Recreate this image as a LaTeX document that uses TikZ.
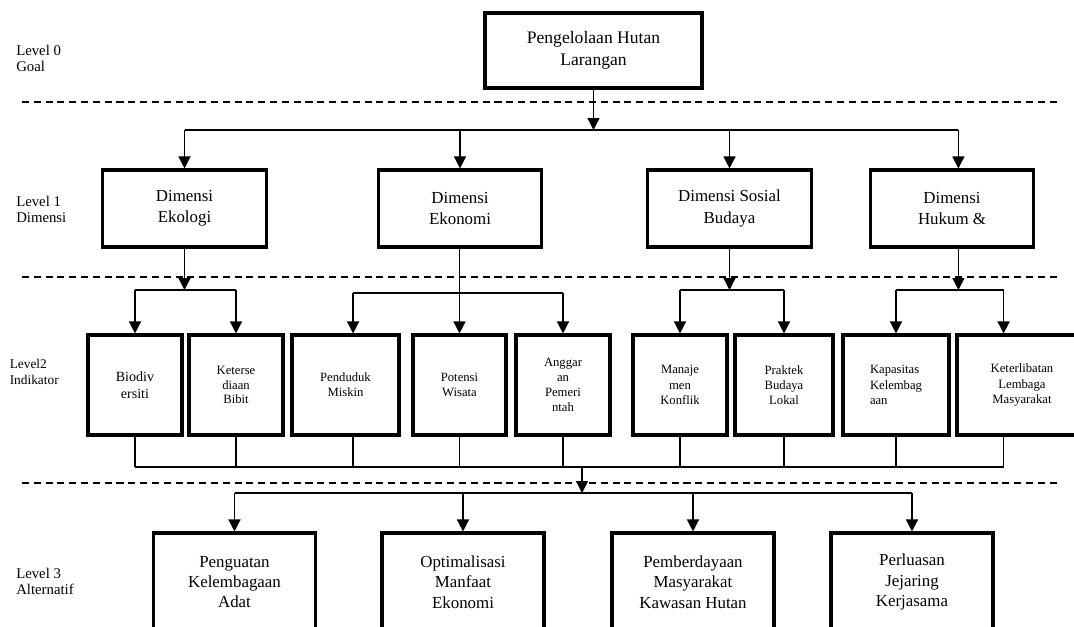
\documentclass[tikz,border=0pt]{standalone}
\usepackage{fontspec}
\setmainfont{Liberation Serif}
\usetikzlibrary{arrows.meta}

\begin{document}
\begin{tikzpicture}[x=0.025cm,y=-0.025cm,
    box/.style={draw,line width=2.2pt,align=center,inner sep=2pt},
    goalbox/.style={box,minimum width=5.425cm,minimum height=1.875cm,font=\fontsize{12.5}{15.5}\selectfont},
    dimbox/.style={box,minimum width=4.08cm,minimum height=1.925cm,font=\fontsize{12}{15}\selectfont},
    indbox/.style={box,minimum height=2.5cm,font=\fontsize{9}{10.8}\selectfont},
    altbox/.style={box,minimum width=4.05cm,minimum height=2.45cm,font=\fontsize{12}{14.4}\selectfont},
    lvl/.style={anchor=west,align=left,inner sep=0pt,font=\fontsize{10.5}{12}\selectfont},
    link/.style={line width=0.95pt},
    arr/.style={link,-{Triangle[length=8.5pt,width=8.5pt]}},
    levelsep/.style={line width=0.9pt,dash pattern=on 5pt off 3.4pt}]
    \useasboundingbox (0,0) rectangle (1074,626);
    \clip (0,0) rectangle (1074,626);

    \node[lvl] (l0) at (16,58.5) {Level 0\\Goal};
    \node[lvl] (l1) at (16,209.5) {Level 1\\Dimensi};
    \node[lvl,font=\fontsize{9.5}{11.3}\selectfont] (l2) at (9.5,372) {Level2\\Indikator};
    \node[lvl] (l3) at (16,581.5) {Level 3\\Alternatif};

    \foreach \y in {102,277,483}
        \draw[levelsep] (22,\y) -- (1060,\y);

    \node[goalbox] (goal) at (593.5,50.5) {Pengelolaan Hutan\\Larangan};

    \node[dimbox] (ekol) at (184.5,208.5) {Dimensi\\Ekologi};
    \node[dimbox] (ekon) at (460,208.5) {Dimensi\\Ekonomi};
    \node[dimbox] (sos) at (729.5,208.5) {Dimensi Sosial\\Budaya};
    \node[dimbox] (huk) at (952,208.5) {Dimensi\\Hukum \&};

    \node[indbox,minimum width=2.35cm,font=\fontsize{10}{12}\selectfont] (bio) at (135,385) {Biodiv\\ersiti};
    \node[indbox,minimum width=2.35cm,font=\fontsize{9}{10.3}\selectfont] (ket) at (236,385) {Keterse\\diaan\\Bibit};
    \node[indbox,minimum width=2.675cm] (pen) at (345.5,385) {Penduduk\\Miskin};
    \node[indbox,minimum width=2.325cm] (pot) at (459.5,385) {Potensi\\Wisata};
    \node[indbox,minimum width=2.35cm] (ang) at (563,385) {Anggar\\an\\Pemeri\\ntah};
    \node[indbox,minimum width=2.35cm] (man) at (680,385) {Manaje\\men\\Konflik};
    \node[indbox,minimum width=2.45cm] (pra) at (784,385) {Praktek\\Budaya\\Lokal};
    \node[indbox,minimum width=2.65cm,align=left] (kap) at (896,385) {Kapasitas\\Kelembag\\aan};
    \node[indbox,minimum width=3.25cm] (kel) at (1022,385) {Keterlibatan\\Lembaga\\Masyarakat};

    \node[altbox] (pgu) at (234.5,582) {Penguatan\\Kelembagaan\\Adat};
    \node[altbox] (opt) at (463,582) {Optimalisasi\\Manfaat\\Ekonomi};
    \node[altbox] (pem) at (693,582) {Pemberdayaan\\Masyarakat\\Kawasan Hutan};
    \node[altbox] (per) at (912,582) {Perluasan\\Jejaring\\Kerjasama};

    \coordinate (b0) at (0,130);
    \coordinate (b1) at (0,290);
    \coordinate (b1e) at (0,293);
    \coordinate (b2) at (0,467);
    \coordinate (b3) at (0,493);
    \coordinate (hukd) at ([xshift=0.16cm]huk.south);
    \coordinate (pend) at ([xshift=0.19cm]pen.north);
    \coordinate (keld) at ([xshift=-0.46cm]kel.north);
    \coordinate (hub) at (582,467);

    \draw[arr] (goal.south) -- (goal.south |- b0);
    \draw[link] (ekol.north |- b0) -- (hukd |- b0);
    \foreach \n in {ekol,ekon,sos}
        \draw[arr] (\n.north |- b0) -- (\n.north);
    \draw[arr] (hukd |- b0) -- (hukd |- huk.north);

    \draw[arr] (ekol.south) -- (ekol.south |- b1);
    \draw[link] (bio.north |- b1) -- (ket.north |- b1);
    \draw[arr] (bio.north |- b1) -- (bio.north);
    \draw[arr] (ket.north |- b1) -- (ket.north);

    \draw[arr] (ekon.south -| pot.north) -- (pot.north);
    \draw[link] (pend |- b1e) -- (ang.north |- b1e);
    \draw[arr] (pend |- b1e) -- (pend);
    \draw[arr] (ang.north |- b1e) -- (ang.north);

    \draw[arr] (sos.south) -- (sos.south |- b1);
    \draw[link] (man.north |- b1) -- (pra.north |- b1);
    \draw[arr] (man.north |- b1) -- (man.north);
    \draw[arr] (pra.north |- b1) -- (pra.north);

    \draw[arr] (hukd) -- (hukd |- b1);
    \draw[link] (kap.north |- b1) -- (keld |- b1);
    \draw[arr] (kap.north |- b1) -- (kap.north);
    \draw[arr] (keld |- b1) -- (keld);

    \foreach \n in {bio,ket,pot,ang,man,pra,kap}
        \draw[link] (\n.south) -- (\n.south |- b2);
    \draw[link] (pend |- pen.south) -- (pend |- b2);
    \draw[link] (keld |- kel.south) -- (keld |- b2);
    \draw[link] (bio.south |- b2) -- (keld |- b2);
    \draw[arr] (hub) -- (hub |- b3);

    \draw[link] (pgu.north |- b3) -- (per.north |- b3);
    \foreach \n in {pgu,opt,pem,per}
        \draw[arr] (\n.north |- b3) -- (\n.north);
\end{tikzpicture}
\end{document}
